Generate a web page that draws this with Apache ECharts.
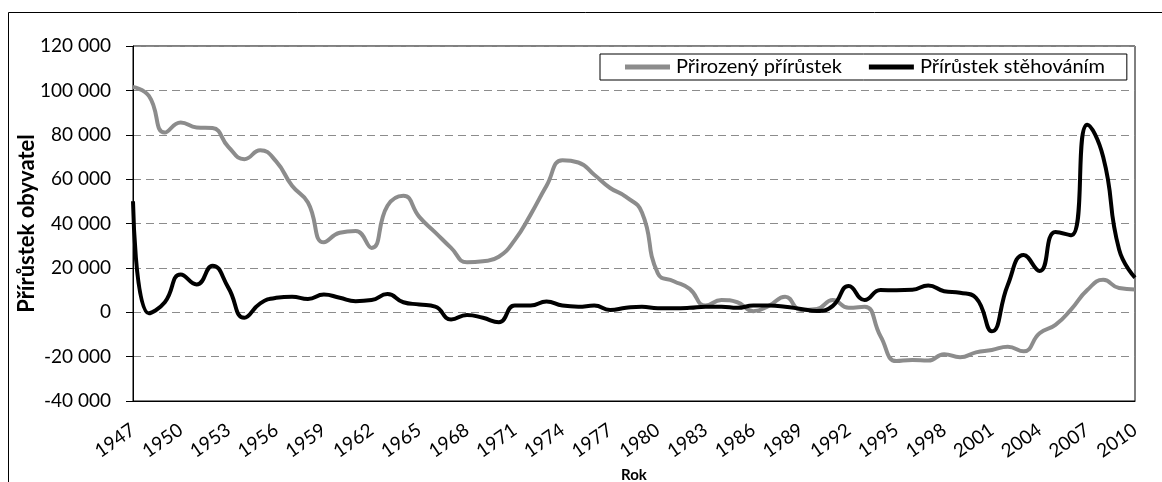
<!DOCTYPE html>
<html>
<head>
<meta charset="utf-8">
<script src="https://cdn.jsdelivr.net/npm/echarts@6/dist/echarts.min.js"></script>
<style>
  html, body { margin: 0; padding: 0; background: #fff; }
  #chart { width: 1162px; height: 482px; }
</style>
</head>
<body>
<div id="chart"></div>
<script>
// roky 1947-2010
const years = [];
for (let y = 1947; y <= 2010; y++) years.push(String(y));

// přirozený přírůstek (šedá)
const natural = [
  101500, 97500, 81000, 85500, 83300, 83000, 74500, 69000, 73000, 68000,
  57000, 49500, 31500, 35800, 36600, 29000, 48000, 52500, 43000, 36000,
  29000, 22500, 23000, 25000, 32500, 44000, 57000, 68500, 67500, 62000,
  56000, 52000, 45000, 17500, 14000, 10500, 3000, 5500, 4500, 500,
  3000, 7000, 1000, 1500, 5500, 2000, 2500, -10800, -22000, -21500,
  -21800, -18900, -20300, -18100, -17000, -15500, -17600, -9500, -5700, 1400,
  10000, 14600, 10900, 10300
];

// přírůstek stěhováním (černá)
const migration = [
  50000, -500, 4500, 17000, 12500, 21000, 11000, -2500, 4000, 6500,
  7000, 6000, 8000, 6500, 5000, 5500, 8200, 4500, 3500, 2500,
  -3300, -1200, -2500, -4500, 3000, 3000, 4800, 3000, 2500, 3000,
  1000, 2000, 2500, 1800, 1800, 2000, 2500, 2500, 2000, 3000,
  3000, 2500, 1500, 600, 2900, 11800, 5500, 10000, 9900, 10100,
  12100, 9500, 8800, 6500, -8600, 12300, 25800, 18600, 36200, 34700,
  84500, 70000, 28300, 15600
];

const font = 'Lato, "Open Sans", sans-serif';

const chartInstance = echarts.init(document.getElementById('chart'));

const option = {
  animation: false,
  backgroundColor: '#fff',
  textStyle: { fontFamily: font },
  graphic: [
    {
      type: 'rect',
      shape: { x: 8.5, y: 12.5, width: 1200, height: 520 },
      style: { fill: 'none', stroke: '#000', lineWidth: 1 },
      silent: true,
      z: -1
    }
  ],
  grid: {
    left: 133,
    right: 27,
    top: 46,
    bottom: 81,
    show: true,
    borderColor: '#000',
    borderWidth: 1,
    containLabel: false,
    outerBoundsMode: 'none'
  },
  legend: {
    left: 600,
    top: 54,
    orient: 'horizontal',
    backgroundColor: '#fff',
    borderColor: '#000',
    borderWidth: 1,
    borderRadius: 0,
    padding: [3, 22, 3, 25],
    itemGap: 27,
    itemWidth: 45,
    itemHeight: 5,
    icon: 'rect',
    textStyle: { fontFamily: font, fontSize: 20, color: '#000', padding: [0, 0, 0, 1] },
    data: ['Přirozený přírůstek', 'Přírůstek stěhováním']
  },
  xAxis: {
    type: 'category',
    data: years,
    boundaryGap: false,
    name: 'Rok',
    nameLocation: 'middle',
    nameGap: 67,
    nameMoveOverlap: false,
    nameTextStyle: { fontFamily: font, fontSize: 15, fontWeight: 'bold', color: '#000' },
    axisLine: { onZero: false, lineStyle: { color: '#000', width: 1 } },
    axisTick: { show: false },
    axisLabel: {
      interval: 2,
      rotate: 35,
      margin: 27,
      fontFamily: font,
      fontSize: 19,
      color: '#000'
    },
    splitLine: { show: false }
  },
  yAxis: {
    type: 'value',
    min: -40000,
    max: 120000,
    interval: 20000,
    name: 'Přírůstek obyvatel',
    nameLocation: 'middle',
    nameGap: 95,
    nameMoveOverlap: false,
    nameTextStyle: { fontFamily: font, fontSize: 22, fontWeight: 'bold', color: '#000' },
    axisLine: { show: true, lineStyle: { color: '#000', width: 1 } },
    axisTick: { show: true, inside: false, length: 7, lineStyle: { color: '#000' } },
    axisLabel: {
      margin: 22,
      fontFamily: font,
      fontSize: 19,
      color: '#000',
      formatter: function (v) {
        const s = String(Math.abs(v)).replace(/\B(?=(\d{3})+(?!\d))/g, ' ');
        return (v < 0 ? '-' : '') + s;
      }
    },
    splitLine: {
      lineStyle: { color: '#8c8c8c', type: [8, 5], width: 1 }
    }
  },
  series: [
    {
      name: 'Přirozený přírůstek',
      type: 'line',
      data: natural,
      smooth: 0.5,
      symbol: 'none',
      lineStyle: { color: '#8c8c8c', width: 4 },
      itemStyle: { color: '#8c8c8c' },
      z: 2
    },
    {
      name: 'Přírůstek stěhováním',
      type: 'line',
      data: migration,
      smooth: 0.5,
      symbol: 'none',
      lineStyle: { color: '#000', width: 4 },
      itemStyle: { color: '#000' },
      z: 3
    }
  ]
};

chartInstance.setOption(option);
</script>
</body>
</html>
